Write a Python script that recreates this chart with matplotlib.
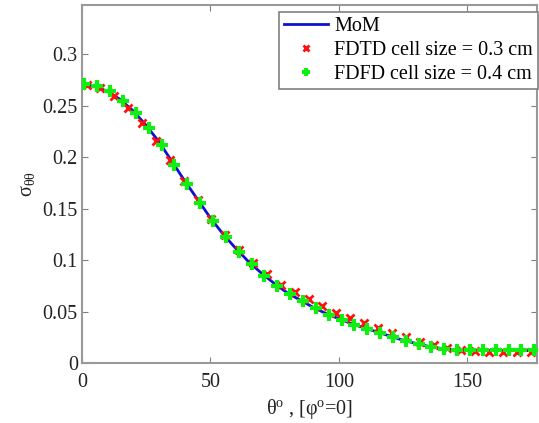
import numpy as np
import matplotlib
matplotlib.use('Agg')
import matplotlib.pyplot as plt

# scattering cross section sigma_theta-theta vs theta (phi = 0)
theta_mom = [0, 5, 10, 15, 20, 25, 30, 35, 40, 45, 50, 55, 60, 65, 70, 75, 80, 85, 90,
             95, 100, 105, 110, 115, 120, 125, 130, 135, 140, 145, 150, 155, 160, 165,
             170, 175, 180]
sigma_mom = [0.271, 0.269, 0.264, 0.256, 0.245, 0.231, 0.215, 0.196, 0.177, 0.159, 0.141,
             0.125, 0.111, 0.098, 0.087, 0.077, 0.068, 0.061, 0.054, 0.048, 0.043, 0.038,
             0.034, 0.030, 0.026, 0.022, 0.019, 0.016, 0.014, 0.013, 0.012, 0.012, 0.012,
             0.012, 0.012, 0.012, 0.012]

theta_fdtd = [1.8, 7.2, 12.6, 18.0, 23.4, 28.8, 34.2, 39.6, 45.0, 50.4, 55.8, 61.2, 66.6,
              72.0, 77.4, 82.8, 88.2, 93.6, 99.0, 104.4, 109.8, 115.2, 120.6, 126.0, 131.4,
              136.8, 142.2, 147.6, 153.0, 158.4, 163.8, 169.2, 174.6]
sigma_fdtd = [0.270, 0.267, 0.260, 0.248, 0.233, 0.216, 0.197, 0.177, 0.158, 0.140, 0.124,
              0.110, 0.097, 0.086, 0.076, 0.069, 0.062, 0.0555, 0.049, 0.0435, 0.0387,
              0.0335, 0.029, 0.025, 0.0208, 0.0175, 0.0149, 0.0128, 0.0115, 0.011, 0.011,
              0.0105, 0.011]

theta_fdfd = [1, 6, 11, 16, 21, 26, 31, 36, 41, 46, 51, 56, 61, 66, 71, 76, 81, 86, 91, 96,
              101, 106, 111, 116, 121, 126, 131, 136, 141, 146, 151, 156, 161, 166, 171, 176]
sigma_fdfd = [0.271, 0.269, 0.264, 0.255, 0.243, 0.228, 0.212, 0.192, 0.174, 0.156, 0.138,
              0.122, 0.108, 0.096, 0.085, 0.075, 0.067, 0.060, 0.053, 0.047, 0.042, 0.037,
              0.033, 0.029, 0.025, 0.021, 0.018, 0.0157, 0.0135, 0.0128, 0.0125, 0.0123,
              0.0123, 0.0123, 0.0123, 0.0123]

plt.rcParams['font.family'] = ['Liberation Serif', 'DejaVu Serif']
plt.rcParams['mathtext.fontset'] = 'custom'
plt.rcParams['mathtext.rm'] = 'Liberation Serif'
plt.rcParams['mathtext.it'] = 'Liberation Serif:italic'

fig = plt.figure(figsize=(5.39, 4.23), dpi=100)
ax = fig.add_axes([0.152, 0.142, 0.844, 0.846])

ax.plot(theta_mom, sigma_mom, color='#1010d0', lw=2, label='MoM', zorder=2)
ax.plot(theta_fdtd, sigma_fdtd, ls='none', marker='x', ms=6, mew=2, color='#ff1010',
        label='FDTD cell size = 0.3 cm', zorder=3)
ax.plot(theta_fdfd, sigma_fdfd, ls='none', marker='+', ms=8, mew=3, color='#10f010',
        label='FDFD cell size = 0.4 cm', zorder=4)

ax.set_xlim(0, 177)
ax.set_ylim(0, 0.348)
ax.set_xticks([0, 50, 100, 150])
ax.set_yticks([0, 0.05, 0.1, 0.15, 0.2, 0.25, 0.3])
ax.set_yticklabels(['0', '0.05', '0.1', '0.15', '0.2', '0.25', '0.3'])
ax.tick_params(direction='in', top=True, right=True, labelsize=14.5, length=4,
               color='#808080', labelcolor='#222222', pad=3)
ax.tick_params(axis='x', pad=7)
for s in ax.spines.values():
    s.set_color('#999999')
    s.set_linewidth(1.5)

ax.set_xlabel('θ$^{\\mathrm{o}}$ , [φ$^{\\mathrm{o}}$=0]', fontsize=14.5, color='#222222', labelpad=4)
ax.set_ylabel('σ$_{\\mathrm{θθ}}$', fontsize=14.5, color='#222222', labelpad=4)

leg = ax.legend(loc='upper right', fontsize=14.5, frameon=True, fancybox=False,
                edgecolor='#808080', framealpha=1, borderpad=0.25, labelspacing=0.25,
                handlelength=2.2, handletextpad=0.3, markerscale=0.8,
                bbox_to_anchor=(1.003, 0.982), borderaxespad=0.0)
leg.get_frame().set_linewidth(1.2)

fig.savefig('out.png', dpi=100)
